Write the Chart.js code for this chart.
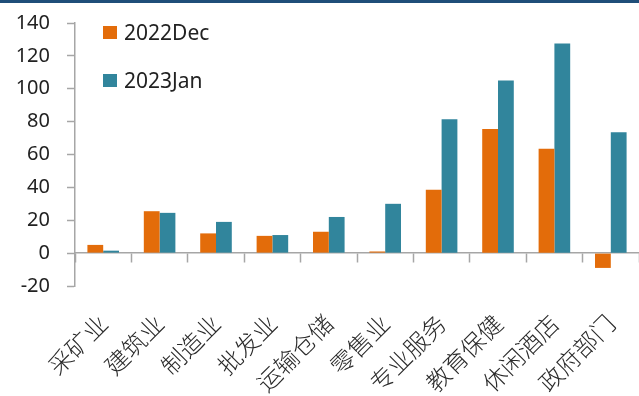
<!DOCTYPE html>
<html>
<head>
<meta charset="utf-8">
<script src="https://cdn.jsdelivr.net/npm/chart.js@4/dist/chart.umd.min.js"></script>
<style>
  html, body { margin: 0; padding: 0; background: #ffffff; }
  #wrap { width: 639px; height: 396px; position: relative; }
</style>
</head>
<body>
<div id="wrap"><canvas id="c" width="639" height="396"></canvas></div>
<script>
// Sector labels along the category axis
const categories = ['采矿业', '建筑业', '制造业', '批发业', '运输仓储', '零售业', '专业服务', '教育保健', '休闲酒店', '政府部门'];
// Series names
const seriesNames = ['2022Dec', '2023Jan'];
// Values per sector (thousands)
const dec2022 = [5, 25.5, 12, 10.5, 13, 1, 38.5, 75.5, 63.5, -9];
const jan2023 = [1.5, 24.5, 19, 11, 22, 30, 81.5, 105, 127.5, 73.5];
// Value axis ticks
const yTicks = [-20, 0, 20, 40, 60, 80, 100, 120, 140];

const ORANGE = '#E36C0A';
const TEAL = '#31859C';
const AXIS_GREY = '#a6a6a6';
const LATIN_FONT = '"Noto Sans", "Open Sans", sans-serif';
const CJK_FONT = '"Noto Sans CJK SC", "Noto Sans CJK JP", sans-serif';

// Thin navy band across the top edge
const topBand = {
  id: 'topBand',
  beforeDraw(chart) {
    const ctx = chart.ctx;
    ctx.save();
    ctx.fillStyle = '#1F4E79';
    ctx.fillRect(0, 0, chart.width, 3);
    ctx.restore();
  }
};

// Stacked legend in the upper-left corner of the plot
const stackedLegend = {
  id: 'stackedLegend',
  afterDraw(chart) {
    const ctx = chart.ctx;
    ctx.save();
    ctx.font = '21px ' + LATIN_FONT;
    ctx.textBaseline = 'alphabetic';
    ctx.textAlign = 'left';
    chart.data.datasets.forEach((ds, i) => {
      const y = 26 + i * 48;
      ctx.fillStyle = ds.backgroundColor;
      ctx.fillRect(103, y, 14, 13);
      ctx.fillStyle = '#222222';
      ctx.fillText(ds.label, 124, y + 14);
    });
    ctx.restore();
  }
};

// Keep axis label overhang from shrinking the plot area
function noOverhang(scale) {
  scale.paddingTop = 0;
  scale.paddingBottom = 0;
  scale.paddingLeft = 0;
  scale.paddingRight = 0;
}

new Chart(document.getElementById('c'), {
  type: 'bar',
  data: {
    labels: categories,
    datasets: [
      { label: seriesNames[0], data: dec2022, backgroundColor: ORANGE, borderWidth: 0 },
      { label: seriesNames[1], data: jan2023, backgroundColor: TEAL, borderWidth: 0 }
    ]
  },
  plugins: [topBand, stackedLegend],
  options: {
    responsive: false,
    animation: false,
    layout: { padding: { top: 23, right: 0, bottom: 0, left: 0 } },
    datasets: { bar: { categoryPercentage: 0.56, barPercentage: 1.0 } },
    plugins: { legend: { display: false }, tooltip: { enabled: false } },
    scales: {
      x: {
        position: 'bottom',
        border: { display: false },
        grid: { display: false },
        ticks: {
          autoSkip: false,
          minRotation: 45,
          maxRotation: 45,
          padding: 15,
          color: '#2a2a2a',
          font: { family: CJK_FONT, size: 24, weight: 300 }
        },
        afterFit(scale) { scale.height = 110; noOverhang(scale); }
      },
      xZero: {
        type: 'category',
        position: { y: 0 },
        border: { display: true, color: AXIS_GREY, width: 1.5 },
        grid: { display: true, drawOnChartArea: false, drawTicks: true, tickLength: 9, tickColor: AXIS_GREY, tickWidth: 1.5, offset: true },
        ticks: { display: false },
        afterFit(scale) { scale.height = 0; noOverhang(scale); }
      },
      y: {
        min: yTicks[0],
        max: yTicks[yTicks.length - 1],
        border: { display: true, color: AXIS_GREY, width: 1.5 },
        grid: { display: true, drawOnChartArea: false, drawTicks: true, tickLength: 8, tickColor: AXIS_GREY, tickWidth: 1.5 },
        afterBuildTicks(scale) { scale.ticks = yTicks.map(v => ({ value: v })); },
        ticks: {
          padding: 17,
          color: '#222222',
          font: { family: LATIN_FONT, size: 20 }
        },
        afterFit(scale) { scale.width = 75; noOverhang(scale); }
      }
    }
  }
});
</script>
</body>
</html>
